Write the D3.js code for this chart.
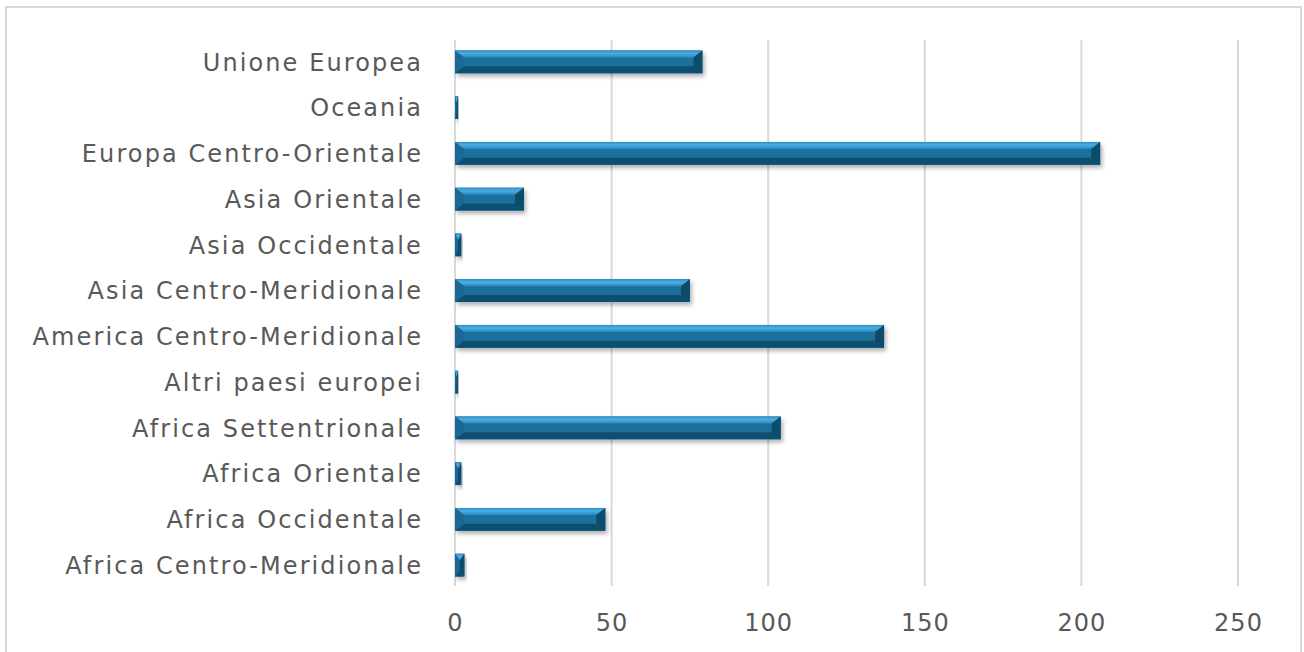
<!DOCTYPE html>
<html>
<head>
<meta charset="utf-8">
<script src="https://cdn.jsdelivr.net/npm/d3@7"></script>
<style>
  html, body { margin: 0; padding: 0; background: #fff; }
  svg { display: block; }
  text { font-family: "DejaVu Sans", Arial, sans-serif; fill: #595959; }
</style>
</head>
<body>
<svg id="chart" width="1304" height="652"></svg>
<script>
const categories = [
  "Unione Europea",
  "Oceania",
  "Europa Centro-Orientale",
  "Asia Orientale",
  "Asia Occidentale",
  "Asia Centro-Meridionale",
  "America Centro-Meridionale",
  "Altri paesi europei",
  "Africa Settentrionale",
  "Africa Orientale",
  "Africa Occidentale",
  "Africa Centro-Meridionale"
];
const values = [79, 1, 206, 22, 2, 75, 137, 1, 104, 2, 48, 3];
const tickValues = [0, 50, 100, 150, 200, 250];

const svg = d3.select("#chart");

// outer frame
svg.append("rect")
  .attr("x", 6).attr("y", 7)
  .attr("width", 1295).attr("height", 660)
  .attr("fill", "#fff").attr("stroke", "#d9d9d9").attr("stroke-width", 2);

const x = d3.scaleLinear().domain([0, 250]).range([455, 1238]);
const y = d3.scaleBand().domain(categories).range([39, 588]).paddingInner(0.5).paddingOuter(0.25);

const defs = svg.append("defs");
const f = defs.append("filter").attr("id", "shadow")
  .attr("x", "-10%").attr("y", "-30%").attr("width", "130%").attr("height", "180%");
f.append("feDropShadow").attr("dx", 2).attr("dy", 3).attr("stdDeviation", 2.2)
  .attr("flood-color", "#000").attr("flood-opacity", 0.3);

const tg = defs.append("linearGradient").attr("id", "topBevel").attr("x1", 0).attr("y1", 0).attr("x2", 0).attr("y2", 1);
tg.append("stop").attr("offset", "0%").attr("stop-color", "#2f8fc4");
tg.append("stop").attr("offset", "45%").attr("stop-color", "#4aaee2");
tg.append("stop").attr("offset", "100%").attr("stop-color", "#2b88bc");

// gridlines
svg.append("g").selectAll("line")
  .data(tickValues)
  .join("line")
  .attr("x1", d => x(d)).attr("x2", d => x(d))
  .attr("y1", 40).attr("y2", 586)
  .attr("stroke", "#d9d9d9").attr("stroke-width", 2);

// x axis labels
const xAxis = d3.axisBottom(x).tickValues(tickValues).tickSize(0).tickPadding(0);
const gx = svg.append("g").attr("transform", "translate(0,622)").call(xAxis);
gx.select(".domain").remove();
gx.selectAll("text")
  .attr("font-size", 24).attr("dy", "0.36em").attr("y", 0)
  .style("letter-spacing", "1px")
  .style("font-family", "'DejaVu Sans', Arial, sans-serif").attr("fill", "#595959");

// y axis labels
const yAxis = d3.axisLeft(y).tickSize(0).tickPadding(0);
const gy = svg.append("g").attr("transform", "translate(423,0)").call(yAxis);
gy.select(".domain").remove();
gy.selectAll("text")
  .attr("font-size", 24).attr("dy", "0.36em")
  .style("letter-spacing", "2.1px")
  .style("font-family", "'DejaVu Sans', Arial, sans-serif").attr("fill", "#595959");

// bars with bevel
const bars = svg.append("g").selectAll("g.bar")
  .data(categories.map((c, i) => ({ c, v: values[i] })))
  .join("g").attr("class", "bar")
  .attr("filter", "url(#shadow)");

bars.each(function(d) {
  const g = d3.select(this);
  const x0 = x(0), x1 = x(d.v);
  const y0 = y(d.c), h = y.bandwidth(), y1 = y0 + h;
  const w = x1 - x0;
  const bv = Math.min(7, h / 3);
  const bh = Math.min(9, w / 2);
  g.append("rect").attr("x", x0).attr("y", y0).attr("width", w).attr("height", h).attr("fill", "#1c6f9c");
  g.append("polygon").attr("points", [[x0, y0], [x1, y0], [x1 - bh, y0 + bv], [x0 + bh, y0 + bv]].join(" "))
    .attr("fill", "url(#topBevel)");
  g.append("polygon").attr("points", [[x0, y1], [x1, y1], [x1 - bh, y1 - bv], [x0 + bh, y1 - bv]].join(" "))
    .attr("fill", "#114f71");
  g.append("polygon").attr("points", [[x0, y0], [x0 + bh, y0 + bv], [x0 + bh, y1 - bv], [x0, y1]].join(" "))
    .attr("fill", "#1a6894");
  g.append("polygon").attr("points", [[x1, y0], [x1 - bh, y0 + bv], [x1 - bh, y1 - bv], [x1, y1]].join(" "))
    .attr("fill", "#0f4b6b");
});
</script>
</body>
</html>
